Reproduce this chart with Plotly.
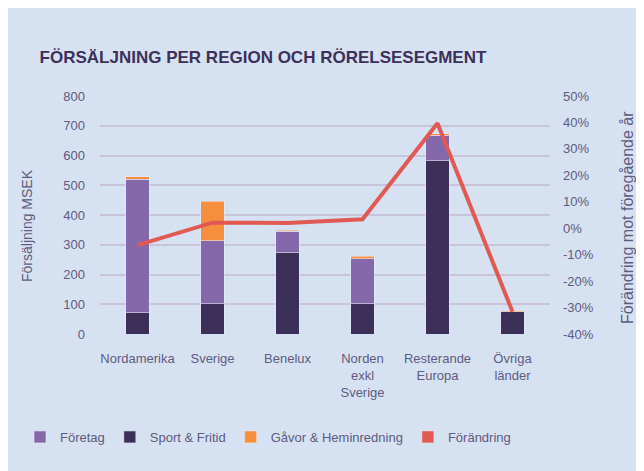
import plotly.graph_objects as go

categories = ["Nordamerika", "Sverige", "Benelux", "Norden<br>exkl<br>Sverige", "Resterande<br>Europa", "Övriga<br>länder"]
sport_fritid = [72, 102, 273, 101, 582, 74]
foretag = [448, 211, 72, 152, 86, 0]
gavor = [8, 133, 3, 8, 5, 3]
forandring = [-6.4, 2.1, 2.0, 3.4, 39.7, -31.6]

y_left_ticks = [0, 100, 200, 300, 400, 500, 600, 700, 800]
y_right_ticks = [-40, -30, -20, -10, 0, 10, 20, 30, 40, 50]
y_right_labels = [f"{v}%" for v in y_right_ticks]

C_FORETAG = "#8568a9"
C_SPORT = "#3c3059"
C_GAVOR = "#f68e3e"
C_FORANDRING = "#e05a53"
C_TEXT = "#5f5a80"
C_TITLE = "#3d3059"
C_GRID = "#c9c4da"
C_PANEL = "#d6e2f1"
FONT = "Liberation Sans, Arial, sans-serif"

outline = dict(color="rgba(235,235,250,0.55)", width=1)

fig = go.Figure()
fig.add_trace(go.Bar(x=categories, y=sport_fritid, name="Sport & Fritid",
                     marker=dict(color=C_SPORT, line=outline), legendrank=2))
fig.add_trace(go.Bar(x=categories, y=foretag, name="Företag",
                     marker=dict(color=C_FORETAG, line=outline), legendrank=1))
fig.add_trace(go.Bar(x=categories, y=gavor, name="Gåvor & Heminredning",
                     marker=dict(color=C_GAVOR, line=outline), legendrank=3))
# legend-only entry for the line (filled symbol as in the reference)
fig.add_trace(go.Bar(x=[categories[0]], y=[None], name="Förändring",
                     marker=dict(color=C_FORANDRING), legendrank=4))
fig.add_trace(go.Scatter(x=categories, y=forandring, name="Förändring", yaxis="y2",
                         mode="lines", line=dict(color=C_FORANDRING, width=4),
                         showlegend=False))

# figure is offset by the page's 8px body margin; geometry in figure pixels
W, H = 636, 463
L, R, T, B = 92, 542, 88, 326
def px(x):
    return (x - L) / (R - L)
def py(y):
    return (B - y) / (B - T)

fig.update_layout(
    width=W, height=H,
    margin=dict(l=L, r=W - R, t=T, b=H - B, pad=0, autoexpand=False),
    paper_bgcolor=C_PANEL,
    plot_bgcolor=C_PANEL,
    barmode="stack",
    bargap=0.69,
    font=dict(family=FONT, size=13, color=C_TEXT),
    title=dict(text="<b>FÖRSÄLJNING PER REGION OCH RÖRELSESEGMENT</b>",
               x=255 / W, xanchor="center", xref="container",
               y=1 - 49 / H, yanchor="middle", yref="container",
               font=dict(family=FONT, size=17, color=C_TITLE)),
    xaxis=dict(showgrid=False, zeroline=False, showline=False, ticks="",
               tickfont=dict(size=13, color=C_TEXT), ticklabelstandoff=15),
    yaxis=dict(range=[0, 800], tickvals=y_left_ticks, showgrid=True, gridcolor=C_GRID,
               gridwidth=1.5, zeroline=False, showline=False, ticks="",
               tickfont=dict(size=13, color=C_TEXT), ticklabelstandoff=14),
    yaxis2=dict(range=[-40, 50], tickvals=y_right_ticks, ticktext=y_right_labels,
                overlaying="y", side="right", showgrid=False, zeroline=False,
                showline=False, ticks="", tickfont=dict(size=13, color=C_TEXT),
                ticklabelstandoff=12),
    legend=dict(orientation="h", x=px(12), xanchor="left", y=py(429), yanchor="middle",
                font=dict(size=13, color=C_TEXT), bgcolor="rgba(0,0,0,0)",
                traceorder="normal", itemclick=False),
    showlegend=True,
    annotations=[
        dict(text="Försäljning MSEK", xref="paper", yref="paper",
             x=px(19), y=py(218), textangle=-90, showarrow=False,
             xanchor="center", yanchor="middle",
             font=dict(size=14, color=C_TEXT)),
        dict(text="Förändring mot föregående år", xref="paper", yref="paper",
             x=px(619), y=py(210), textangle=-90, showarrow=False,
             xanchor="center", yanchor="middle",
             font=dict(size=16, color=C_TEXT)),
    ],
)

fig.write_html("out.html")
